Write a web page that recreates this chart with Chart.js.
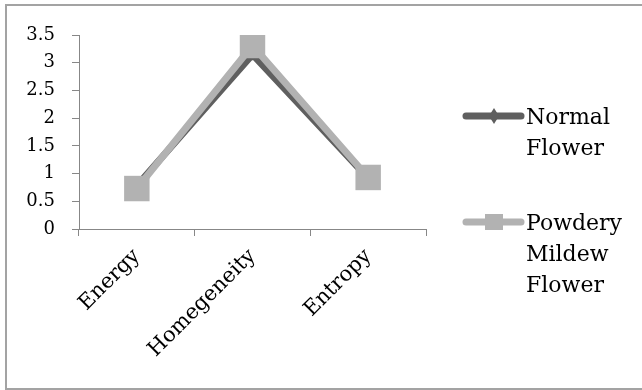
<!DOCTYPE html>
<html>
<head>
<meta charset="utf-8">
<script src="https://cdn.jsdelivr.net/npm/chart.js@4"></script>
<style>
    html, body { margin: 0; padding: 0; background: #fff; overflow: hidden; }
    #frame { position: absolute; left: 5px; top: 4px; width: 700px; height: 382px; border: 2px solid #a3a3a3; }
    #wrap { position: absolute; left: 0; top: 0; width: 642px; height: 390px; }
</style>
</head>
<body>
<div id="frame"></div>
<div id="wrap"><canvas id="chart" width="642" height="390"></canvas></div>
<script>
const categories = ['Energy', 'Homegeneity', 'Entropy'];
const normalFlower = [0.78, 3.15, 0.92];
const powderyMildew = [0.73, 3.31, 0.93];
const yTicks = [0, 0.5, 1, 1.5, 2, 2.5, 3, 3.5];

const DARK = '#5f5f5f';
const LIGHT = '#b2b2b2';
const AXIS = '#878787';
const SERIF = '"DejaVu Serif"';

// Legend drawn by hand so the names can wrap like the original
const sideLegend = {
    id: 'sideLegend',
    afterDraw(chart) {
        const c = chart.ctx;
        const rows = [116, 222];
        chart.data.datasets.forEach((ds, i) => {
            const y = rows[i];
            c.save();
            c.strokeStyle = ds.borderColor;
            c.lineWidth = 7;
            c.lineCap = 'round';
            c.beginPath();
            c.moveTo(466, y);
            c.lineTo(521, y);
            c.stroke();
            c.fillStyle = ds.backgroundColor;
            c.beginPath();
            if (ds.pointStyle === 'rectRot') {
                c.moveTo(494, y - 8); c.lineTo(499, y); c.lineTo(494, y + 8); c.lineTo(489, y);
            } else {
                c.rect(485, y - 8, 18, 16);
            }
            c.fill();
            c.fillStyle = '#000';
            c.font = '22px ' + SERIF;
            c.textBaseline = 'alphabetic';
            ds.label.split(' ').forEach((w, k) => c.fillText(w, 526, y + 8 + k * 31));
            c.restore();
        });
    }
};

new Chart(document.getElementById('chart'), {
    type: 'line',
    data: {
        labels: categories,
        datasets: [{
            label: 'Normal Flower',
            data: normalFlower,
            borderColor: DARK,
            backgroundColor: DARK,
            borderWidth: 7,
            borderJoinStyle: 'round',
            borderCapStyle: 'round',
            pointStyle: 'rectRot',
            pointRadius: 6,
            pointBorderWidth: 0,
            order: 1
        }, {
            label: 'Powdery Mildew Flower',
            data: powderyMildew,
            borderColor: LIGHT,
            backgroundColor: LIGHT,
            borderWidth: 7,
            borderJoinStyle: 'round',
            borderCapStyle: 'round',
            pointStyle: 'rect',
            pointRadius: 18,
            pointBorderWidth: 0,
            order: 0
        }]
    },
    options: {
        responsive: false,
        animation: false,
        layout: { padding: { top: 35, left: 0, right: 216, bottom: 0 } },
        plugins: { legend: { display: false }, tooltip: { enabled: false } },
        scales: {
            x: {
                offset: true,
                grid: { offset: true, drawOnChartArea: false, tickLength: 7, tickColor: AXIS },
                border: { color: AXIS, width: 1 },
                ticks: { maxRotation: 45, minRotation: 45, color: '#000', font: { family: SERIF, size: 21 }, padding: 8 },
                afterFit(scale) { scale.height = 161; }
            },
            y: {
                min: 0,
                max: 3.5,
                afterBuildTicks(scale) { scale.ticks = yTicks.map(v => ({ value: v })); },
                grid: { drawOnChartArea: false, tickLength: 7, tickColor: AXIS },
                border: { color: AXIS, width: 1 },
                ticks: { autoSkip: false, color: '#000', font: { family: SERIF, size: 18 }, padding: 17, callback: v => String(v) },
                afterFit(scale) { scale.width = 79; }
            }
        }
    },
    plugins: [sideLegend]
});
</script>
</body>
</html>
